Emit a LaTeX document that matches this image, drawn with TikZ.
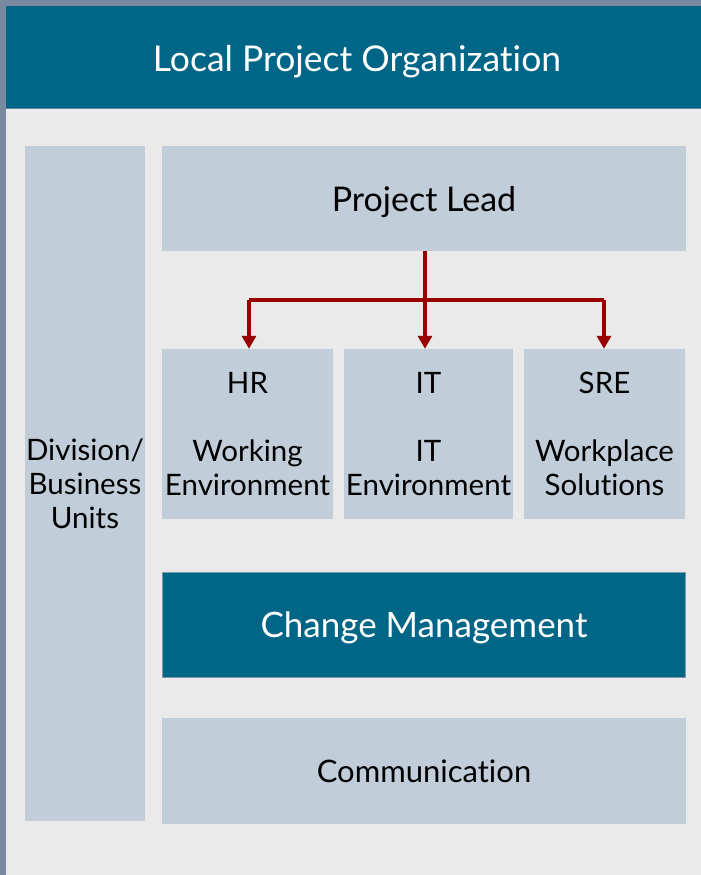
\documentclass[tikz,border=0pt]{standalone}
\usepackage{fontspec}
\setmainfont{Lato}[RawFeature={-liga,-dlig,-clig}]
\usetikzlibrary{arrows.meta}
\definecolor{frameblue}{HTML}{7889A0}
\definecolor{bodygray}{HTML}{EAEAEA}
\definecolor{tealc}{HTML}{006688}
\definecolor{boxblue}{HTML}{C1CED9}
\definecolor{cmborder}{HTML}{8299AE}
\definecolor{hdrline}{HTML}{5E8BA8}
\definecolor{arrowred}{HTML}{990000}
\tikzset{
  lbox/.style={fill=boxblue, draw=none, inner sep=0pt, align=center, text=black,
    font=\fontsize{29.5}{34}\selectfont},
  tbox/.style={fill=tealc, draw=cmborder, line width=1.5pt, inner sep=0pt, align=center, text=white,
    font=\fontsize{35}{40}\selectfont},
  conn/.style={draw=arrowred, line width=4pt, line join=miter},
  tip/.style={-{Triangle[width=14pt,length=13pt]}}
}
\begin{document}
\begin{tikzpicture}[x=1pt,y=-1pt]
\useasboundingbox (0,0) rectangle (701,875);
\fill[frameblue] (0,0) rectangle (701,875);
\fill[bodygray] (6,6) rectangle (701,875);
\fill[tealc] (6,6) rectangle (701,108);
\draw[hdrline, line width=1pt] (6,108) -- (701,108);
\node[text=white, font=\fontsize{35.5}{40}\selectfont] (title) at (357,62) {Local Project Organization};

\node[lbox, minimum width=120pt, minimum height=675pt] (div) at (85,483.5) {Division/\\Business\\Units};
\node[lbox, minimum width=524pt, minimum height=105pt, text depth=0pt, font=\fontsize{34}{40}\selectfont] (pl) at (424,198.5) {Project Lead};
\node[lbox, minimum width=171pt, minimum height=170pt] (hr) at (247.5,434) {HR\\[34pt]Working\\Environment};
\node[lbox, minimum width=169pt, minimum height=170pt] (it) at (428.5,434) {IT\\[34pt]IT\\Environment};
\node[lbox, minimum width=161pt, minimum height=170pt] (sre) at (604.5,434) {SRE\\[34pt]Workplace\\Solutions};
\node[tbox, minimum width=523pt, minimum height=105pt, text depth=0pt] (cm) at (424,625) {Change Management};
\node[lbox, minimum width=524pt, minimum height=106pt, font=\fontsize{31}{36}\selectfont] (comm) at (424,771) {Communication};

\coordinate (j) at (425,300);
\draw[conn] ([xshift=1pt]pl.south) -- ([xshift=1pt]pl.south |- j);
\draw[conn] ([xshift=1.5pt]hr.north |- j) -- ([xshift=-0.5pt]sre.north |- j);
\draw[conn, tip] ([xshift=1.5pt]hr.north |- j) -- ([xshift=1.5pt]hr.north);
\draw[conn, tip] ([xshift=1pt]pl.south |- j) -- ([xshift=1pt]pl.south |- it.north);
\draw[conn, tip] ([xshift=-0.5pt]sre.north |- j) -- ([xshift=-0.5pt]sre.north);
\end{tikzpicture}
\end{document}
